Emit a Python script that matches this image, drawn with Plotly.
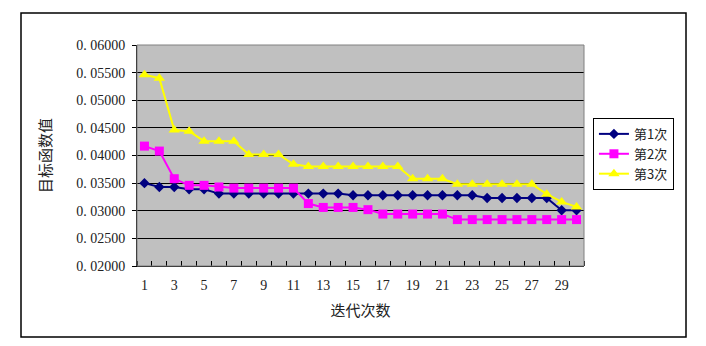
import plotly.graph_objects as go

# Iteration index and objective values for three runs
iterations = list(range(1, 31))
run1 = [0.0350, 0.0343, 0.0343, 0.0339, 0.0339, 0.0331, 0.0331, 0.0331, 0.0331, 0.0331,
        0.0331, 0.0331, 0.0331, 0.0331, 0.0328, 0.0328, 0.0328, 0.0328, 0.0328, 0.0328,
        0.0328, 0.0328, 0.0328, 0.0323, 0.0323, 0.0323, 0.0323, 0.0323, 0.0301, 0.0301]
run2 = [0.0417, 0.0408, 0.0358, 0.0346, 0.0346, 0.0343, 0.0341, 0.0341, 0.0341, 0.0341,
        0.0341, 0.0313, 0.0306, 0.0306, 0.0306, 0.0302, 0.0294, 0.0294, 0.0294, 0.0294,
        0.0294, 0.0284, 0.0284, 0.0284, 0.0284, 0.0284, 0.0284, 0.0284, 0.0284, 0.0284]
run3 = [0.0546, 0.0540, 0.0446, 0.0444, 0.0426, 0.0426, 0.0426, 0.0402, 0.0402, 0.0402,
        0.0384, 0.0380, 0.0380, 0.0380, 0.0380, 0.0380, 0.0380, 0.0380, 0.0358, 0.0358,
        0.0358, 0.0348, 0.0348, 0.0348, 0.0348, 0.0348, 0.0348, 0.0330, 0.0316, 0.0307]
series_names = ["第1次", "第2次", "第3次"]

y_ticks = [0.02, 0.025, 0.03, 0.035, 0.04, 0.045, 0.05, 0.055, 0.06]
y_ticktext = ["0. 02000", "0. 02500", "0. 03000", "0. 03500", "0. 04000",
              "0. 04500", "0. 05000", "0. 05500", "0. 06000"]
x_ticks = list(range(1, 31, 2))
x_boundaries = [i + 0.5 for i in range(0, 31)]

serif = "Liberation Serif, Times New Roman, serif"
cjk = "Noto Sans CJK SC, sans-serif"

fig = go.Figure()
styles = [
    dict(color="#000080", symbol="diamond", size=8),
    dict(color="#FF00FF", symbol="square", size=9),
    dict(color="#FFFF00", symbol="triangle-up", size=10),
]
for name, vals, st in zip(series_names, [run1, run2, run3], styles):
    fig.add_trace(go.Scatter(
        x=iterations, y=vals, name=name, mode="lines+markers",
        line=dict(color=st["color"], width=2),
        marker=dict(color=st["color"], symbol=st["symbol"], size=st["size"],
                    line=dict(width=0)),
    ))

fig.update_layout(
    width=706, height=346,
    margin=dict(l=137, r=122, t=45, b=80),
    paper_bgcolor="white",
    plot_bgcolor="#C0C0C0",
    showlegend=True,
    legend=dict(
        x=1.02, xanchor="left", y=0.67, yanchor="top",
        bordercolor="black", borderwidth=1, bgcolor="white",
        font=dict(family=cjk, size=13, color="#222222"),
        tracegroupgap=0,
    ),
    xaxis=dict(
        range=[0.5, 30.5], tickmode="array", tickvals=x_ticks,
        ticks="", showgrid=False, zeroline=False,
        showline=True, linecolor="black", linewidth=1,
        ticklabelstandoff=6,
        tickfont=dict(family=serif, size=14, color="#222222"),
        minor=dict(tickmode="array", tickvals=x_boundaries, ticks="inside",
                   ticklen=5, tickcolor="black", tickwidth=1, showgrid=False),
        title=dict(text="迭代次数", font=dict(family=cjk, size=15, color="#222222"),
                   standoff=13),
    ),
    yaxis=dict(
        range=[0.02, 0.06], tickmode="array", tickvals=y_ticks, ticktext=y_ticktext,
        ticks="outside", ticklen=4, tickcolor="black",
        showgrid=True, gridcolor="black", gridwidth=1, zeroline=False,
        showline=True, linecolor="black", linewidth=1,
        ticklabelstandoff=4,
        tickfont=dict(family=serif, size=14, color="#222222"),
        title=dict(text="目标函数值", font=dict(family=cjk, size=15, color="#222222"),
                   standoff=20),
    ),
    shapes=[
        # plot area frame
        dict(type="rect", xref="paper", yref="paper", x0=0, x1=1, y0=0, y1=1,
             line=dict(color="#808080", width=1), layer="above"),
        # outer chart frame
        dict(type="rect", xref="paper", yref="paper",
             x0=-0.2595, x1=1.2282, y0=-0.3213, y1=1.1448,
             line=dict(color="black", width=1.5)),
    ],
)

fig.write_html("out.html")
